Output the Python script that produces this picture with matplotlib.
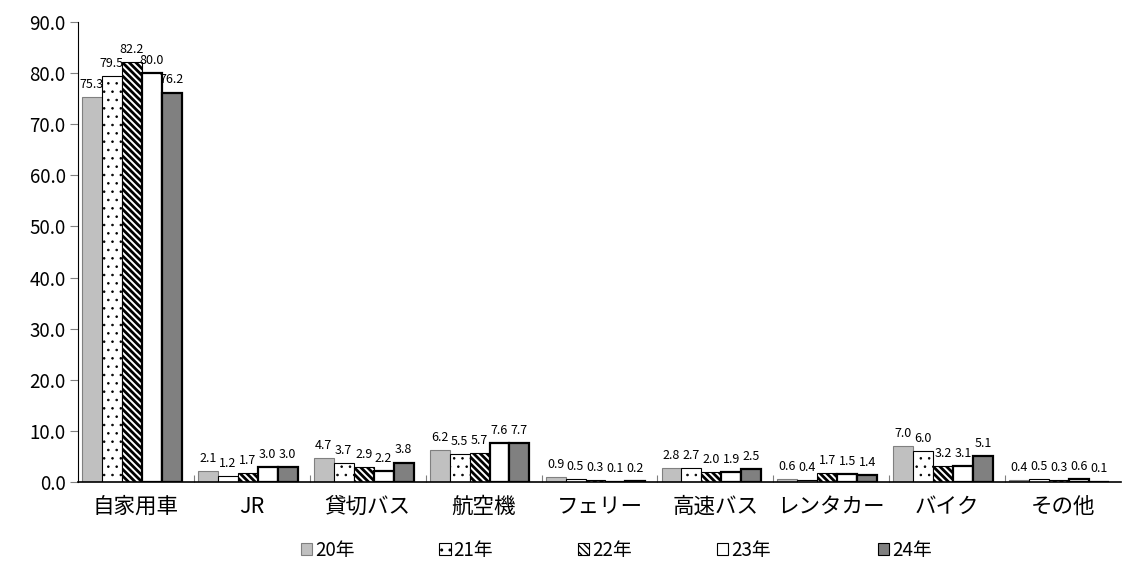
import matplotlib
matplotlib.use("Agg")
import matplotlib.pyplot as plt
import numpy as np
from matplotlib.patches import Patch

plt.rcParams['font.family'] = ['Noto Sans CJK JP', 'DejaVu Sans']
plt.rcParams['hatch.linewidth'] = 1.0

categories = ['自家用車', 'JR', '貸切バス', '航空機', 'フェリー', '高速バス', 'レンタカー', 'バイク', 'その他']
series_names = ['20年', '21年', '22年', '23年', '24年']
v20 = [75.3, 2.1, 4.7, 6.2, 0.9, 2.8, 0.6, 7.0, 0.4]
v21 = [79.5, 1.2, 3.7, 5.5, 0.5, 2.7, 0.4, 6.0, 0.5]
v22 = [82.2, 1.7, 2.9, 5.7, 0.3, 2.0, 1.7, 3.2, 0.3]
v23 = [80.0, 3.0, 2.2, 7.6, 0.1, 1.9, 1.5, 3.1, 0.6]
v24 = [76.2, 3.0, 3.8, 7.7, 0.2, 2.5, 1.4, 5.1, 0.1]
yticks = [0, 10, 20, 30, 40, 50, 60, 70, 80, 90]

series = [v20, v21, v22, v23, v24]
faces = ['#c0c0c0', 'white', 'white', 'white', '#808080']
edges = ['#808080', 'black', 'black', 'black', 'black']
hatches = [None, '..', '\\\\\\\\\\', None, None]
hatch_lw = [1.0, 0.6, 2.0, 1.0, 1.0]
lws = [0.8, 0.8, 0.8, 1.6, 1.6]


def set_hlw(patch, lw):
    if hasattr(patch, 'set_hatch_linewidth'):
        try:
            patch.set_hatch_linewidth(lw)
        except Exception:
            pass


fig = plt.figure(figsize=(11.24, 5.62), dpi=100)
ax = fig.add_axes([0.0694, 0.1423, 0.928, 0.8186])

x = np.arange(len(categories))
w = 0.172
for i, vals in enumerate(series):
    pos = x + (i - 2) * w - 0.035
    bars = ax.bar(pos, vals, width=w, color=faces[i], edgecolor=edges[i],
                  hatch=hatches[i], linewidth=lws[i], label=series_names[i], zorder=2)
    for b in bars:
        set_hlw(b, hatch_lw[i])
    for xp, v in zip(pos, vals):
        ax.text(xp, v + 1.2, f'{v:.1f}', ha='center', va='bottom', fontsize=9)

ax.set_xlim(-0.5, len(categories) - 0.5)
ax.set_ylim(0, 90)
ax.set_yticks(yticks)
ax.set_yticklabels([f'{t:.1f}' for t in yticks], fontsize=13.5)
ax.set_xticks(x)
ax.set_xticklabels(categories, fontsize=15.5)
ax.tick_params(axis='x', which='major', length=0, pad=10)
ax.set_xticks(np.arange(0.5, len(categories) - 0.5, 1), minor=True)
ax.tick_params(axis='x', which='minor', direction='in', length=5, width=0.8, color='#808080')
ax.tick_params(axis='y', direction='out', length=6, width=0.8, pad=3, color='#808080')
ax.spines['top'].set_visible(False)
ax.spines['right'].set_visible(False)
ax.spines['left'].set_color('black')
ax.spines['bottom'].set_color('black')
ax.spines['bottom'].set_linewidth(1.2)

leg_x = [0.268, 0.391, 0.514, 0.638, 0.781]
for i in range(5):
    h = Patch(facecolor=faces[i], edgecolor=edges[i], hatch=hatches[i], linewidth=0.8)
    set_hlw(h, hatch_lw[i])
    fig.legend([h], [series_names[i]], loc='center left', bbox_to_anchor=(leg_x[i], 0.021),
               frameon=False, fontsize=13.5, handlelength=0.6, handleheight=0.6,
               handletextpad=0.15, borderpad=0, borderaxespad=0)

fig.savefig('out.png', dpi=100)
